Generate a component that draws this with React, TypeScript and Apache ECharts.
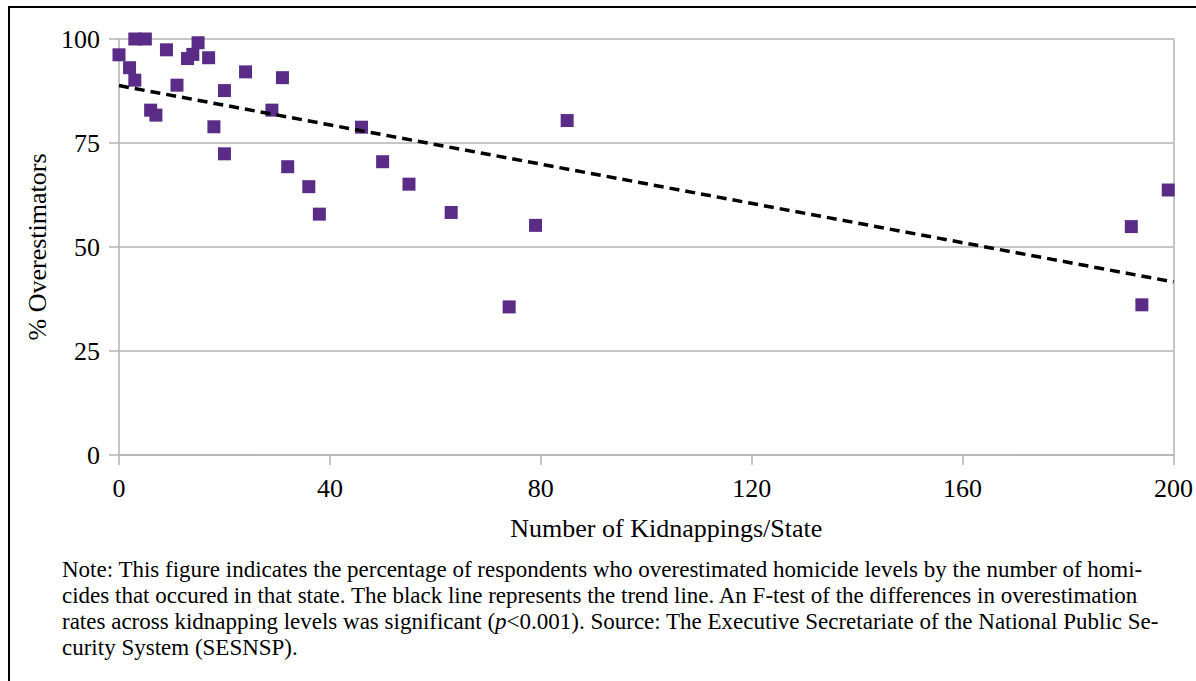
import React, { useEffect, useRef } from "react";
import * as echarts from "echarts";

const titleText = "Figure 6: Percentage of Overestimators and the Number of Kidnappings/State";
const xAxisName = "Number of Kidnappings/State";
const yAxisName = "% Overestimators";
const xMin = 0;
const xMax = 200;
const xStep = 40;
const yMin = 0;
const yMax = 100;
const yStep = 25;

const kidnappings = [0, 2, 3, 3, 5, 6, 7, 9, 11, 13, 14, 15, 17, 18, 20, 20, 24, 29, 31, 32, 36, 38, 46, 50, 55, 63, 74, 79, 85, 192, 194, 199];
const overestimators = [96.2, 93.1, 100, 90.1, 100, 82.9, 81.7, 97.4, 88.9, 95.3, 96.3, 99.1, 95.5, 78.9, 87.6, 72.4, 92.1, 82.9, 90.7, 69.3, 64.5, 57.9, 78.8, 70.5, 65.1, 58.3, 35.6, 55.2, 80.4, 54.9, 36.1, 63.7];

const trendX = [0, 200];
const trendY = [88.8, 41.6];

const noteLines = [
  "Note: This figure indicates the percentage of respondents who overestimated homicide levels by the number of homi-",
  "cides that occured in that state. The black line represents the trend line. An F-test of the differences in overestimation",
  "rates across kidnapping levels was significant ({i|p}<0.001). Source: The Executive Secretariate of the National Public Se-",
  "curity System (SESNSP).",
];

const SERIF = "'Liberation Serif', 'Times New Roman', serif";
const GRID = "#b3b3b3";
const PURPLE = "#5b2c87";

export default function App() {
  const ref = useRef<HTMLDivElement>(null);

  useEffect(() => {
    if (!ref.current) return;
    const chart = echarts.init(ref.current, null, { renderer: "svg" });

    const points = kidnappings.map((k, i) => [k, overestimators[i]]);
    const trend = trendX.map((x, i) => [x, trendY[i]]);

    const noteGraphics = noteLines.map((line, i) => ({
      type: "text",
      left: 62,
      top: 558 + i * 26,
      silent: true,
      style: {
        text: line,
        fill: "#000",
        font: `23px ${SERIF}`,
        rich: {
          i: { fontStyle: "italic", fontSize: 23, fontFamily: SERIF, fill: "#000" },
        },
      },
    }));

    chart.setOption({
      animation: false,
      backgroundColor: "#fff",
      grid: { left: 119, right: 21, top: 39, bottom: 226, containLabel: false },
      xAxis: {
        type: "value",
        min: xMin,
        max: xMax,
        interval: xStep,
        name: xAxisName,
        nameLocation: "middle",
        nameGap: 60,
        nameTextStyle: { fontFamily: SERIF, fontSize: 26, color: "#000", padding: [0, 0, 0, 40] },
        axisLine: { show: true, lineStyle: { color: GRID, width: 1.5 } },
        axisTick: { show: true, length: 10, lineStyle: { color: GRID, width: 1.5 } },
        axisLabel: { fontFamily: SERIF, fontSize: 26, color: "#000", margin: 20 },
        splitLine: { show: false },
      },
      yAxis: [
        {
          type: "value",
          min: yMin,
          max: yMax,
          interval: yStep,
          name: yAxisName,
          nameLocation: "middle",
          nameGap: 48,
          nameRotate: 90,
          nameTextStyle: { fontFamily: SERIF, fontSize: 26, color: "#000" },
          axisLine: { show: true, lineStyle: { color: GRID, width: 1.5 } },
          axisTick: { show: true, length: 10, lineStyle: { color: GRID, width: 1.5 } },
          axisLabel: { fontFamily: SERIF, fontSize: 26, color: "#000", margin: 19 },
          splitLine: { show: true, lineStyle: { color: GRID, width: 1.5 } },
        },
        {
          type: "value",
          min: yMin,
          max: yMax,
          interval: yStep,
          position: "right",
          axisLine: { show: true, lineStyle: { color: GRID, width: 1.5 } },
          axisTick: { show: false },
          axisLabel: { show: false },
          splitLine: { show: false },
        },
      ],
      series: [
        {
          type: "line",
          data: trend,
          symbol: "none",
          lineStyle: { color: "#000", width: 3.5, type: [10, 6] },
          silent: true,
          z: 3,
        },
        {
          type: "scatter",
          data: points,
          symbol: "rect",
          symbolSize: 13,
          itemStyle: { color: PURPLE, opacity: 1 },
          z: 2,
        },
      ],
      graphic: [
        {
          type: "line",
          silent: true,
          shape: { x1: 8, y1: 7, x2: 1196, y2: 7 },
          style: { stroke: "#000", lineWidth: 2 },
        },
        {
          type: "line",
          silent: true,
          shape: { x1: 9, y1: 6, x2: 9, y2: 681 },
          style: { stroke: "#000", lineWidth: 2 },
        },
        {
          type: "text",
          silent: true,
          x: 1214,
          y: -2,
          style: {
            text: titleText,
            fill: "#000",
            font: `bold 27px ${SERIF}`,
            align: "right",
            verticalAlign: "bottom",
          },
        },
        ...noteGraphics,
      ],
    });

    return () => chart.dispose();
  }, []);

  return (
    <div
      ref={ref}
      style={{ position: "absolute", left: 0, top: 0, width: 1196, height: 681, background: "#fff" }}
    />
  );
}
